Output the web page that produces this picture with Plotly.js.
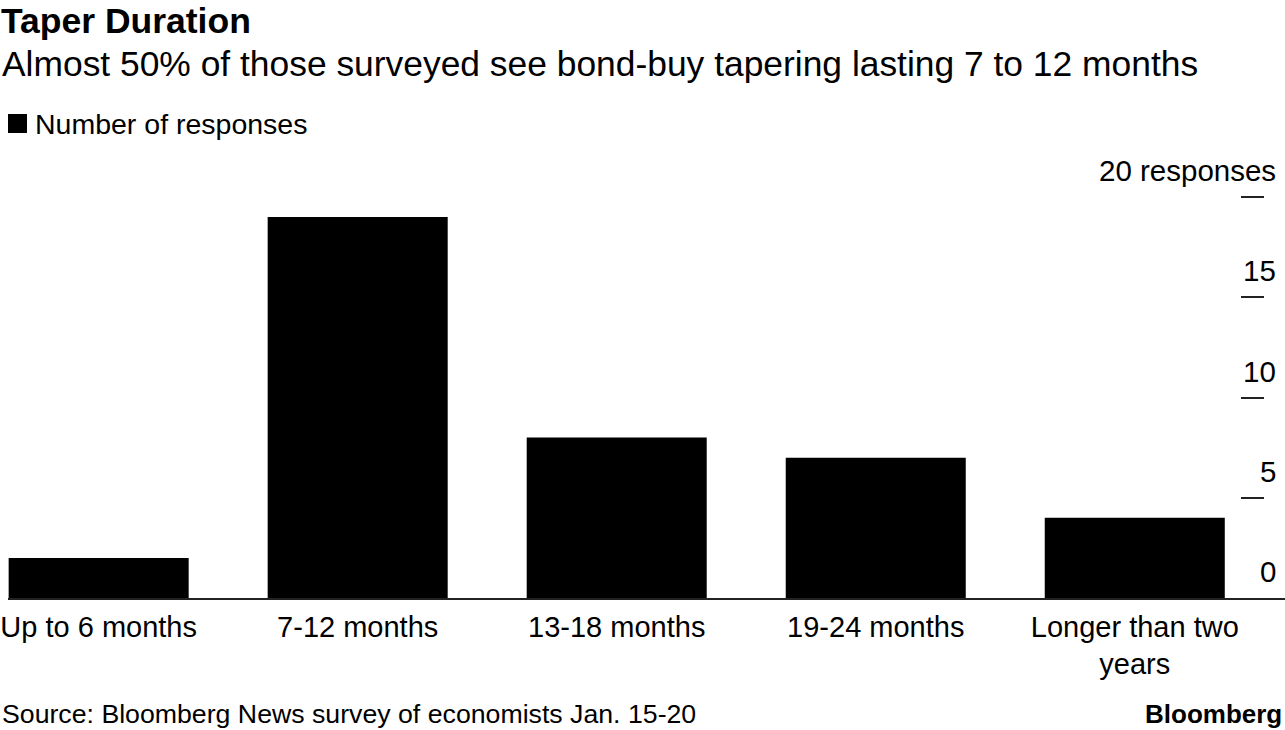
<!DOCTYPE html>
<html>
<head>
<meta charset="utf-8">
<script src="https://cdn.plot.ly/plotly-3.0.1.min.js"></script>
<style>html,body{margin:0;padding:0;background:#fff;}#chart{width:1285px;height:730px;}</style>
</head>
<body>
<div id="chart"></div>
<script>
const categories = ["Up to 6 months", "7-12 months", "13-18 months", "19-24 months", "Longer than two<br>years"];
const responses = [2, 19, 8, 7, 4];
const tickVals = [0, 5, 10, 15, 20];
const tickLabels = ["0", "5", "10", "15", "20 responses"];
const seriesName = "Number of responses";

const FONT = "Liberation Sans, Arial, sans-serif";
const W = 1285, H = 730, ML = 8, MR = 0, MT = 177, MB = 132;
const PW = W - ML - MR, PH = H - MT - MB;
const px = x => (x - ML) / PW;
const py = y => (H - MB - y) / PH;

const annotations = tickVals.map((v, i) => ({
  text: tickLabels[i], xref: 'paper', yref: 'y', x: px(1278), y: v,
  xanchor: 'right', yanchor: 'bottom', yshift: 8, showarrow: false,
  font: {family: FONT, size: 29.5, color: '#000'}
}));
annotations.push(
  {text: "<b>Taper Duration</b>", xref: 'paper', yref: 'paper',
   x: px(0), y: py(0), xanchor: 'left', yanchor: 'top', showarrow: false, borderpad: 0,
   font: {family: FONT, size: 35.5, color: '#000'}},
  {text: "Almost 50% of those surveyed see bond-buy tapering lasting 7 to 12 months", xref: 'paper', yref: 'paper',
   x: px(0), y: py(64), xanchor: 'left', yanchor: 'middle', showarrow: false,
   font: {family: FONT, size: 35.4, color: '#000'}},
  {text: seriesName, xref: 'paper', yref: 'paper',
   x: px(33), y: py(124), xanchor: 'left', yanchor: 'middle', showarrow: false,
   font: {family: FONT, size: 28.5, color: '#000'}},
  {text: "Source: Bloomberg News survey of economists Jan. 15-20", xref: 'paper', yref: 'paper',
   x: px(0), y: py(714), xanchor: 'left', yanchor: 'middle', showarrow: false,
   font: {family: FONT, size: 26.7, color: '#000'}},
  {text: "<b>Bloomberg</b>", xref: 'paper', yref: 'paper',
   x: px(1284), y: py(714), xanchor: 'right', yanchor: 'middle', showarrow: false,
   font: {family: FONT, size: 26, color: '#000'}}
);

const shapes = [{
  type: 'rect', xref: 'paper', yref: 'paper', x0: px(8), x1: px(27), y0: py(133), y1: py(114),
  fillcolor: '#000', line: {width: 0}
}];

const data = [{
  type: 'bar', x: categories, y: responses, name: seriesName,
  marker: {color: '#000', line: {width: 0}}, showlegend: false, hoverinfo: 'x+y'
}];

const layout = {
  width: W, height: H,
  margin: {l: ML, r: MR, t: MT, b: MB, pad: 0},
  paper_bgcolor: '#fff', plot_bgcolor: '#fff',
  bargap: 0.305,
  xaxis: {type: 'category', range: [-0.35, 4.58], showline: true, linecolor: '#222', linewidth: 1.5,
          ticks: '', showgrid: false, zeroline: false, fixedrange: true, ticklabelstandoff: 2,
          tickfont: {family: FONT, size: 29, color: '#000'}},
  yaxis: {range: [0, 21], showgrid: false, zeroline: false, showline: false, showticklabels: false,
          ticks: 'inside', ticklen: 23, tickwidth: 1.5, tickcolor: '#222', tickvals: tickVals,
          side: 'right', anchor: 'free', position: px(1264), fixedrange: true},
  annotations: annotations,
  shapes: shapes,
  showlegend: false
};

Plotly.newPlot('chart', data, layout, {displayModeBar: false});
</script>
</body>
</html>
